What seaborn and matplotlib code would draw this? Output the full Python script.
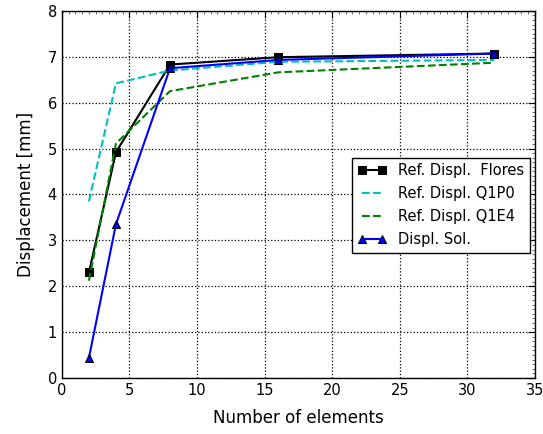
import pandas as pd
import seaborn as sns
import matplotlib.pyplot as plt
from matplotlib.ticker import MultipleLocator

elements = [2, 4, 8, 16, 32]
flores = [2.30, 4.92, 6.83, 6.99, 7.07]
q1p0 = [3.85, 6.42, 6.70, 6.89, 6.93]
q1e4 = [2.12, 5.11, 6.25, 6.66, 6.87]
sol = [0.44, 3.35, 6.75, 6.93, 7.07]

labels = ["Ref. Displ.  Flores", "Ref. Displ. Q1P0", "Ref. Displ. Q1E4", "Displ. Sol."]
series = [flores, q1p0, q1e4, sol]

df = pd.DataFrame({
    "elements": elements * 4,
    "disp": sum(series, []),
    "series": [l for l in labels for _ in elements],
})

sns.set_style("white")
plt.rcParams["font.family"] = ["DejaVu Sans"]
plt.rcParams["text.color"] = "black"
plt.rcParams["axes.labelcolor"] = "black"
plt.rcParams["xtick.color"] = "black"
plt.rcParams["ytick.color"] = "black"

fig = plt.figure(figsize=(5.43, 4.34), dpi=100)
ax = fig.add_axes([0.114, 0.129, 0.871, 0.846])

styles = {
    labels[0]: dict(color="black", ls="-", marker="s", lw=1.5),
    labels[1]: dict(color="#00bfbf", ls="--", marker=None, lw=1.5),
    labels[2]: dict(color="green", ls="--", marker=None, lw=1.5),
    labels[3]: dict(color="blue", ls="-", marker="^", lw=1.5),
}
for lab in labels:
    st = styles[lab]
    sns.lineplot(data=df[df["series"] == lab], x="elements", y="disp", ax=ax,
                 color=st["color"], linestyle=st["ls"], marker=st["marker"],
                 markersize=6, markeredgecolor="black", linewidth=st["lw"],
                 label=lab, dashes=False)

ax.set_xlim(0, 35)
ax.set_ylim(0, 8)
ax.xaxis.set_major_locator(MultipleLocator(5))
ax.yaxis.set_major_locator(MultipleLocator(1))
ax.xaxis.set_minor_locator(MultipleLocator(0.5))
ax.yaxis.set_minor_locator(MultipleLocator(0.1))
ax.tick_params(which="both", direction="in", top=True, right=True, labelsize=10.5)
ax.tick_params(which="major", length=5)
ax.tick_params(which="minor", length=2, color="#555555")
ax.grid(True, which="major", color="black", linestyle=":", linewidth=0.9)
for sp in ax.spines.values():
    sp.set_color("black")
    sp.set_linewidth(1.0)

ax.set_xlabel("Number of elements", fontsize=12, labelpad=8)
ax.set_ylabel("Displacement [mm]", fontsize=12, labelpad=9)

leg = ax.legend(loc="center right", bbox_to_anchor=(0.99, 0.47), borderaxespad=0,
                numpoints=2, fontsize=10.5, frameon=True, fancybox=False,
                edgecolor="black", framealpha=1, handlelength=2.0,
                labelspacing=0.55)
leg.get_frame().set_linewidth(1.0)

fig.savefig("out.png", dpi=100)
